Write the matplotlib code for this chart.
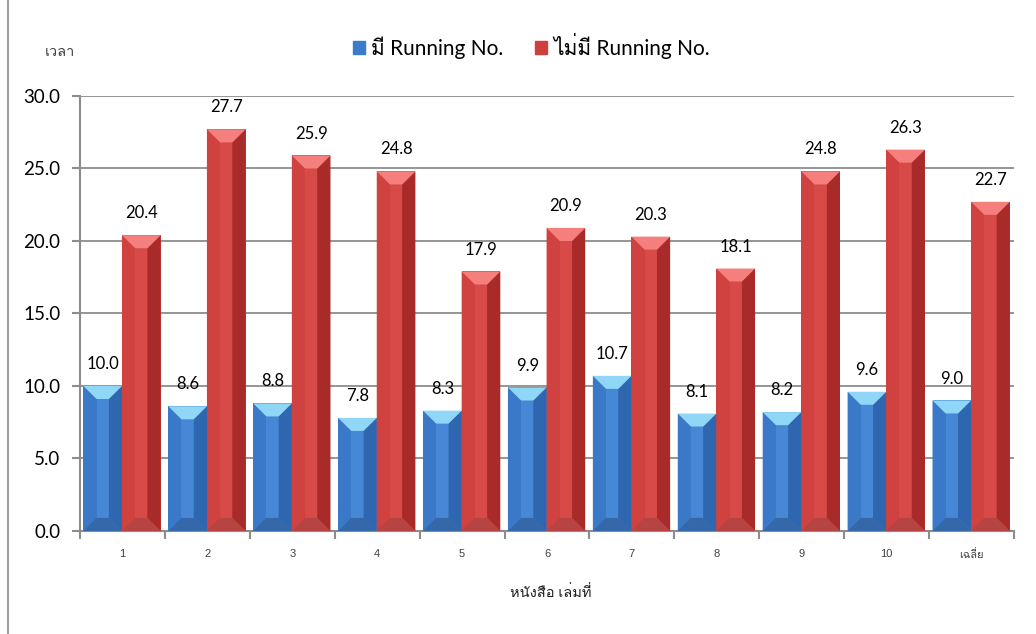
import numpy as np
import matplotlib
matplotlib.use('Agg')
import matplotlib.pyplot as plt
from matplotlib import font_manager
from matplotlib.ft2font import FT2Font
from matplotlib.patches import Polygon
from matplotlib.lines import Line2D

# data
categories = ['1', '2', '3', '4', '5', '6', '7', '8', '9', '10', 'เฉลี่ย']
with_running = [10.0, 8.6, 8.8, 7.8, 8.3, 9.9, 10.7, 8.1, 8.2, 9.6, 9.0]
without_running = [20.4, 27.7, 25.9, 24.8, 17.9, 20.9, 20.3, 18.1, 24.8, 26.3, 22.7]
series_names = ['มี Running No.', 'ไม่มี Running No.']
y_ticks = [0, 5, 10, 15, 20, 25, 30]


# find an installed family that has Thai glyphs
def find_thai_family():
    for f in font_manager.fontManager.ttflist:
        try:
            cmap = FT2Font(f.fname).get_charmap()
        except Exception:
            continue
        if 0x0E21 in cmap and 0x0E35 in cmap:
            return f.name
    return None


thai = find_thai_family()
families = ['Lato']
if thai:
    families.append(thai)
families.append('DejaVu Sans')
plt.rcParams['font.family'] = families
small_families = ['Liberation Sans'] + families[1:]

# colours: faces and top cap
blue = dict(body='#3b7bcc', left='#3a78c8', centre='#4687d6', right='#2f66b0', cap='#8fd6f7', bottom='#3568a8')
red = dict(body='#cf3f3d', left='#d04240', centre='#d84a47', right='#a82b2a', cap='#f47f7c', bottom='#b54442')

W = 0.455      # bar width in category units
DX = 0.155     # bevel inset (x, data units)
DY = 0.9       # bevel inset (y, data units)


def bevel_bar(ax, x0, h, col):
    x1 = x0 + W
    bars = ax.bar([x0], [h], width=W, align='edge', color=col['body'],
                  edgecolor='none', zorder=3)
    ax.add_patch(Polygon([(x0, 0), (x0 + DX, DY), (x0 + DX, h - DY), (x0, h)],
                         closed=True, color=col['left'], lw=0, zorder=4))
    ax.add_patch(Polygon([(x0 + DX, DY), (x1 - DX, DY), (x1 - DX, h - DY), (x0 + DX, h - DY)],
                         closed=True, color=col['centre'], lw=0, zorder=4))
    ax.add_patch(Polygon([(x1, 0), (x1 - DX, DY), (x1 - DX, h - DY), (x1, h)],
                         closed=True, color=col['right'], lw=0, zorder=4))
    ax.add_patch(Polygon([(x0, 0), (x1, 0), (x1 - DX, DY), (x0 + DX, DY)],
                         closed=True, color=col['bottom'], lw=0, zorder=4))
    ax.add_patch(Polygon([(x0, h), (x1, h), (x1 - DX, h - DY), (x0 + DX, h - DY)],
                         closed=True, color=col['cap'], lw=0, zorder=5))
    return bars


fig = plt.figure(figsize=(10.36, 6.34), dpi=100)
ax = fig.add_axes([0.0772, 0.1625, 0.9016, 0.6861])

x = np.arange(len(categories))
for i in x:
    bevel_bar(ax, i - W - 0.005, with_running[i], blue)
    bevel_bar(ax, i - 0.005, without_running[i], red)
    ax.annotate('{:.1f}'.format(with_running[i]), (i - W / 2 - 0.005, with_running[i]),
                xytext=(0, 10), textcoords='offset points', ha='center', va='bottom',
                fontsize=12, color='black', zorder=6)
    ax.annotate('{:.1f}'.format(without_running[i]), (i + W / 2 - 0.005, without_running[i]),
                xytext=(0, 10), textcoords='offset points', ha='center', va='bottom',
                fontsize=12, color='black', zorder=6)

ax.set_xlim(-0.5, len(categories) - 0.5)
ax.set_ylim(0, 30)
ax.set_yticks(y_ticks)
ax.set_yticklabels(['{:.1f}'.format(v) for v in y_ticks], fontsize=13.5)
ax.set_xticks(x)
ax.set_xticklabels(categories, fontsize=8, color='#404040', family=small_families)
ax.set_xticks(np.arange(len(categories) + 1) - 0.5, minor=True)
ax.tick_params(axis='x', which='major', length=0, pad=13)
ax.tick_params(axis='x', which='minor', length=6, width=1.5, color='#8c8c8c')
ax.tick_params(axis='y', length=6, width=1.5, color='#8c8c8c', pad=8)
ax.yaxis.grid(True, color='#8c8c8c', lw=1.3, zorder=0)
ax.set_axisbelow(True)
for s in ['top', 'right']:
    ax.spines[s].set_visible(False)
for s in ['left', 'bottom']:
    ax.spines[s].set_color('#8c8c8c')
    ax.spines[s].set_linewidth(1.5)

fig.text(0.0435, 0.918, 'เวลา', fontsize=10.5, color='#404040', ha='left', va='center')
fig.text(0.532, 0.065, 'หนังสือ เล่มที่', fontsize=10.5, color='#202020', ha='center', va='center')

# frame line at the left edge
fig.add_artist(Line2D([0.008, 0.008], [0, 1], color='#a0a0a0', lw=1.5))

handles = [plt.Rectangle((0, 0), 1, 1, color=blue['body']),
           plt.Rectangle((0, 0), 1, 1, color=red['body'])]
fig.legend(handles, series_names, loc='center', bbox_to_anchor=(0.513, 0.928), ncol=2,
           frameon=False, fontsize=15, handlelength=0.6, handleheight=0.6,
           handletextpad=0.3, columnspacing=1.5)

fig.savefig('out.png', dpi=100)
